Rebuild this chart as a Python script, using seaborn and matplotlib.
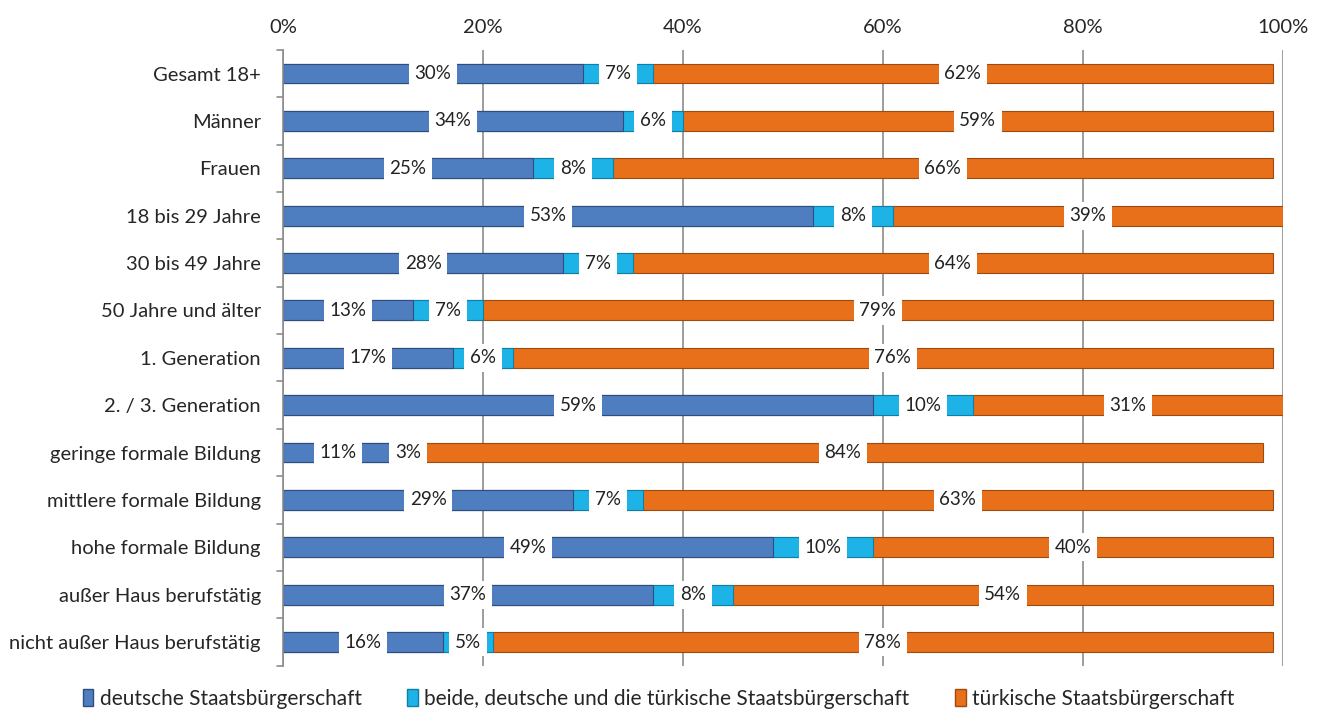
import matplotlib
matplotlib.use("Agg")
import matplotlib.pyplot as plt
import seaborn as sns
import pandas as pd
import numpy as np

categories = ["Gesamt 18+", "Männer", "Frauen", "18 bis 29 Jahre", "30 bis 49 Jahre",
              "50 Jahre und älter", "1. Generation", "2. / 3. Generation",
              "geringe formale Bildung", "mittlere formale Bildung", "hohe formale Bildung",
              "außer Haus berufstätig", "nicht außer Haus berufstätig"]
deutsch = [30, 34, 25, 53, 28, 13, 17, 59, 11, 29, 49, 37, 16]
beide = [7, 6, 8, 8, 7, 7, 6, 10, 3, 7, 10, 8, 5]
tuerkisch = [62, 59, 66, 39, 64, 79, 76, 31, 84, 63, 40, 54, 78]
series_names = ["deutsche Staatsbürgerschaft",
                "beide, deutsche und die türkische Staatsbürgerschaft",
                "türkische Staatsbürgerschaft"]

sns.set_style("white")
plt.rcParams["font.family"] = ["Lato", "DejaVu Sans"]

df = pd.DataFrame({"cat": categories, "d": deutsch, "b": beide, "t": tuerkisch})
df["c1"] = df["d"]
df["c2"] = df["d"] + df["b"]
df["c3"] = df["d"] + df["b"] + df["t"]

colors = ["#4E7DC0", "#1DB3E6", "#E8701A"]
edges = ["#2F4E80", "#0E7FA8", "#9C4A0E"]

fig, ax = plt.subplots(figsize=(13.17, 7.12), dpi=100)
fig.subplots_adjust(left=0.215, right=0.974, top=0.930, bottom=0.065)

for col, c, e in zip(["c3", "c2", "c1"], colors[::-1], edges[::-1]):
    sns.barplot(data=df, x=col, y="cat", order=categories, color=c, width=0.42,
                edgecolor=e, linewidth=0.8, orient="h", ax=ax, saturation=1)

# value labels
ys = np.arange(len(categories))
for col_start, vals in [(np.zeros(len(df)), df["d"]), (df["c1"], df["b"]), (df["c2"], df["t"])]:
    for y, s, v in zip(ys, col_start, vals):
        ax.text(s + v / 2, y, f"{v}%", ha="center", va="center", fontsize=13.5, color="#222222",
                bbox=dict(boxstyle="square,pad=0.3", fc="white", ec="none"), zorder=5)

ax.set_xlim(0, 100)
ax.set_ylim(len(categories) - 0.5, -0.5)
ax.set_xticks([0, 20, 40, 60, 80, 100])
ax.set_xticklabels([f"{v}%" for v in [0, 20, 40, 60, 80, 100]], fontsize=14.5)
ax.xaxis.tick_top()
ax.tick_params(axis="x", length=0, pad=10)
ax.tick_params(axis="y", length=0, labelsize=14.5, pad=16)
ax.set_xlabel("")
ax.set_ylabel("")
ax.grid(axis="x", color="#8C8C8C", linewidth=1.2)
ax.set_axisbelow(True)
for s in ["top", "right", "bottom"]:
    ax.spines[s].set_visible(False)
ax.spines["left"].set_color("#8C8C8C")
ax.spines["left"].set_linewidth(1.2)
for yb in np.arange(-0.5, len(categories), 1):
    ax.plot([-0.6, 0], [yb, yb], color="#8C8C8C", lw=1.2, clip_on=False)

handles = [plt.Rectangle((0, 0), 1, 1, fc=c, ec=e) for c, e in zip(colors, edges)]
fig.legend(handles, series_names, loc="lower center", ncol=3, frameon=False,
           fontsize=15, handlelength=0.5, handleheight=0.9, handletextpad=0.3,
           columnspacing=2.2, bbox_to_anchor=(0.5, -0.022))

fig.savefig("out.png", dpi=100)
